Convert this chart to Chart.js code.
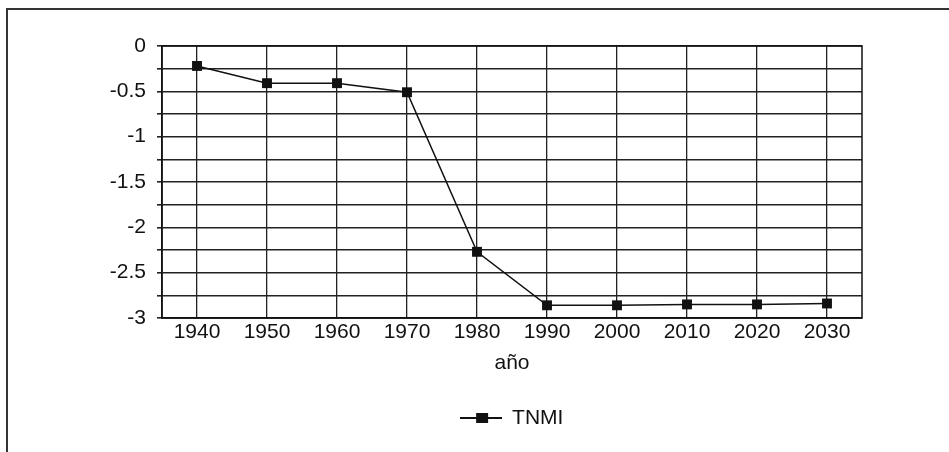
<!DOCTYPE html>
<html lang="es">
<head>
  <meta charset="UTF-8">
  <title>TNMI</title>
  <script src="https://cdn.jsdelivr.net/npm/chart.js@4.4.1/dist/chart.umd.min.js"></script>
  <style>
    html, body { margin: 0; padding: 0; background: #fff; overflow: hidden; }
    #frame { position: absolute; left: 6px; top: 8px; width: 1000px; height: 500px; border: 2px solid #333; box-sizing: border-box; }
    #wrap { position: absolute; left: 0; top: 0; width: 949px; height: 452px; }
  </style>
</head>
<body>
  <div id="frame"></div>
  <div id="wrap"><canvas id="tnmi"></canvas></div>

  <script>
    // years on the x axis
    const years = ['1940', '1950', '1960', '1970', '1980', '1990', '2000', '2010', '2020', '2030'];
    // TNMI values
    const tnmi = [-0.22, -0.41, -0.41, -0.51, -2.27, -2.86, -2.86, -2.85, -2.85, -2.84];
    // y tick labels shown (gridlines every 0.25)
    const yLabels = ['0', '-0.5', '-1', '-1.5', '-2', '-2.5', '-3'];

    const ink = '#111';
    const font = { family: '"Liberation Sans", Arial, sans-serif', size: 21 };

    // little line + square marker for the legend
    const legendMark = document.createElement('canvas');
    legendMark.width = 42;
    legendMark.height = 12;
    const lm = legendMark.getContext('2d');
    lm.fillStyle = ink;
    lm.fillRect(0, 5, 42, 2);
    lm.fillRect(16, 1, 12, 10);

    // box round the plot area
    const plotBox = {
      id: 'plotBox',
      afterDatasetsDraw(chart) {
        const a = chart.chartArea;
        const ctx = chart.ctx;
        ctx.save();
        ctx.strokeStyle = ink;
        ctx.lineWidth = 1.5;
        ctx.strokeRect(a.left, a.top, a.right - a.left, a.bottom - a.top);
        ctx.restore();
      }
    };

    const ctx = document.getElementById('tnmi').getContext('2d');
    const chart = new Chart(ctx, {
      type: 'line',
      data: {
        labels: years,
        datasets: [{
          label: 'TNMI',
          data: tnmi,
          borderColor: ink,
          borderWidth: 1.5,
          pointStyle: 'rect',
          pointRadius: 7,
          pointBackgroundColor: ink,
          pointBorderColor: ink,
          pointBorderWidth: 0,
          tension: 0
        }]
      },
      options: {
        responsive: true,
        maintainAspectRatio: false,
        animation: false,
        layout: { padding: { left: 0, right: 87, top: 46, bottom: 13.5 } },
        plugins: {
          tooltip: { enabled: false },
          legend: {
            position: 'bottom',
            fullSize: false,
            labels: {
              color: ink,
              font: font,
              padding: 10,
              usePointStyle: true,
              pointStyleWidth: 41,
              generateLabels(c) {
                const items = Chart.defaults.plugins.legend.labels.generateLabels(c);
                items.forEach(it => { it.pointStyle = legendMark; });
                return items;
              }
            }
          }
        },
        scales: {
          x: {
            offset: true,
            grid: { offset: false, color: '#222', lineWidth: 1.3, drawTicks: false },
            border: { color: ink, width: 1.5 },
            ticks: { color: ink, font: font, padding: 2, maxRotation: 0, autoSkip: false },
            title: { display: true, text: 'año', color: ink, font: font, padding: { top: 4, bottom: 22 } },
            afterFit(scale) { scale.height = 79.5; }
          },
          y: {
            min: -3,
            max: 0,
            grid: { color: '#222', lineWidth: 1.6, tickLength: 5 },
            border: { color: ink, width: 1.5 },
            ticks: {
              stepSize: 0.25,
              autoSkip: false,
              maxTicksLimit: 20,
              color: ink,
              font: font,
              padding: 11,
              callback(v) {
                const s = String(v);
                return yLabels.includes(s) ? s : '';
              }
            },
            afterFit(scale) { scale.width = 162; }
          }
        }
      },
      plugins: [plotBox]
    });
  </script>
</body>
</html>
